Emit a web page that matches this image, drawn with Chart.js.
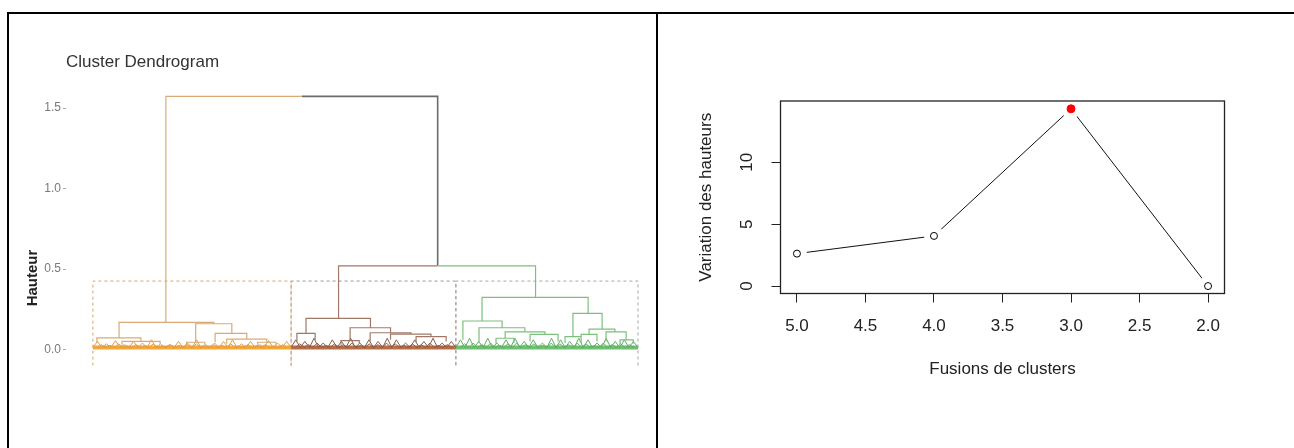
<!DOCTYPE html>
<html><head><meta charset="utf-8">
<script src="https://cdn.jsdelivr.net/npm/chart.js@4.4.1/dist/chart.umd.min.js"></script>
<style>
html,body{margin:0;padding:0;background:#fff;width:1294px;height:448px;overflow:hidden;}
#frame{position:absolute;left:7px;top:12px;width:1287px;height:436px;border-top:2px solid #000;border-left:2px solid #000;box-sizing:border-box;}
#divider{position:absolute;left:656px;top:12px;width:2px;height:436px;background:#000;}
#dend{position:absolute;left:14px;top:14px;}
#elbow{position:absolute;left:660px;top:14px;}
</style></head><body>
<div id="frame"></div><div id="divider"></div>
<canvas id="dend" width="640" height="434"></canvas>
<canvas id="elbow" width="634" height="434"></canvas>
<script>
const FONT = "'Liberation Sans', Arial, Helvetica, sans-serif";

// ---------- Dendrogram data (x in leaf-order units, y = height) ----------
const dendTicks = [0.0, 0.5, 1.0, 1.5];
const nodeLeft    = [24.8, 81.6, 9.4, 34.6, 41.0, 44.8, 2.1, 10.4, 31.6, 55.0, 70.9, 67.9, 85.4, 92.0, 98.7, 107.1, 82.4, 128.8, 122.5, 127.8, 136.4, 144.6, 133.4, 158.7, 156.1, 164.0, 161.4, 169.6, 174.2];
const nodeRight   = [114.2, 146.4, 40.6, 46.5, 51.4, 58.0, 16.6, 22.9, 37.6, 61.0, 92.1, 73.9, 98.7, 105.4, 112.0, 117.0, 88.4, 163.7, 135.4, 142.9, 149.5, 153.8, 139.3, 168.3, 161.4, 172.5, 166.6, 176.2, 178.5];
const nodeHeight  = [1.572, 0.52, 0.168, 0.16, 0.10, 0.065, 0.072, 0.05, 0.045, 0.045, 0.193, 0.10, 0.135, 0.104, 0.095, 0.08, 0.055, 0.324, 0.177, 0.135, 0.11, 0.094, 0.07, 0.224, 0.08, 0.127, 0.094, 0.11, 0.06];
const leftChildH  = [0.168, 0.193, 0.072, 0.045, 0.045, 0.035, 0.04, 0.03, 0.025, 0.03, 0.10, 0.05, 0.055, 0.05, 0.06, 0.045, 0.03, 0.177, 0.06, 0.04, 0.07, 0.05, 0.035, 0.08, 0.04, 0.094, 0.04, 0.05, 0.03];
const rightChildH = [0.52, 0.324, 0.16, 0.10, 0.065, 0.045, 0.05, 0.035, 0.03, 0.03, 0.135, 0.06, 0.104, 0.095, 0.08, 0.05, 0.035, 0.224, 0.135, 0.11, 0.094, 0.05, 0.04, 0.127, 0.045, 0.11, 0.05, 0.06, 0.035];
const leftCluster  = [1, 2, 1, 1, 1, 1, 1, 1, 1, 1, 2, 2, 2, 2, 2, 2, 2, 3, 3, 3, 3, 3, 3, 3, 3, 3, 3, 3, 3];
const rightCluster = [0, 3, 1, 1, 1, 1, 1, 1, 1, 1, 2, 2, 2, 2, 2, 2, 2, 3, 3, 3, 3, 3, 3, 3, 3, 3, 3, 3, 3];
const clusterStart = [0.8, 66.0, 120.2];
const clusterEnd   = [66.0, 120.2, 180.1];
const rectTopH = 0.425;
const rectBottomH = -0.1;
const leafBaseH = 0.012;
// outer layer of small leaf merges
const teethC1 = [0.05, 0.035, 0.055, 0.03, 0.05, 0.04, 0.06, 0.035, 0.03, 0.05, 0.04, 0.06, 0.03, 0.04, 0.05, 0.06, 0.035, 0.05, 0.03, 0.055, 0.04, 0.05];
const teethC2 = [0.06, 0.05, 0.07, 0.04, 0.06, 0.05, 0.07, 0.04, 0.06, 0.05, 0.07, 0.06, 0.04, 0.06, 0.05, 0.07, 0.04, 0.05];
const teethC3 = [0.06, 0.07, 0.05, 0.07, 0.04, 0.06, 0.07, 0.05, 0.06, 0.04, 0.07, 0.06, 0.05, 0.07, 0.06, 0.04, 0.07, 0.05, 0.06, 0.05];
// inner layer of small leaf merges
const innerC1 = [0.03, 0.025, 0.035, 0.02, 0.03, 0.025, 0.035, 0.02, 0.03, 0.025, 0.03, 0.035, 0.02, 0.03, 0.025, 0.035, 0.02, 0.03, 0.025, 0.03, 0.02, 0.03];
const innerC2 = [0.035, 0.03, 0.04, 0.025, 0.035, 0.03, 0.04, 0.025, 0.035, 0.03, 0.04, 0.035, 0.025, 0.035, 0.03, 0.04, 0.025, 0.03];
const innerC3 = [0.035, 0.04, 0.03, 0.04, 0.025, 0.035, 0.04, 0.03, 0.035, 0.025, 0.04, 0.035, 0.03, 0.04, 0.035, 0.025, 0.04, 0.03, 0.035, 0.03];

// ---------- Elbow data ----------
const fusionsX = [5.0, 4.0, 3.0, 2.0];
const heightDiffs = [2.62, 4.05, 14.32, 0.0];
const bestFusion = 3.0;
const fusionTicks = [5.0, 4.5, 4.0, 3.5, 3.0, 2.5, 2.0];
const diffTicks = [0, 5, 10];

// ---------- build dendrogram datasets ----------
const treeColors  = ['#6b6b6b', '#D9AA74', '#A07868', '#7DBF7D'];
const bandColors  = ['#F4A83A', '#B86E44', '#6CC070'];
const teethColors = ['#E39B45', '#8C5C46', '#5FAF63'];
const rectColors  = ['#DDA365', '#A89088', '#A2AAA2'];

function treeSegments(cl) {
  const pts = [];
  for (let i = 0; i < nodeLeft.length; i++) {
    const mid = (nodeLeft[i] + nodeRight[i]) / 2;
    if (leftCluster[i] === cl) {
      pts.push({x: nodeLeft[i], y: leftChildH[i]}, {x: nodeLeft[i], y: nodeHeight[i]}, {x: mid, y: nodeHeight[i]}, {x: mid, y: null});
    }
    if (rightCluster[i] === cl) {
      pts.push({x: mid, y: nodeHeight[i]}, {x: nodeRight[i], y: nodeHeight[i]}, {x: nodeRight[i], y: rightChildH[i]}, {x: nodeRight[i], y: null});
    }
  }
  return pts;
}
function zigzag(k, heights, shift) {
  const w = (clusterEnd[k] - clusterStart[k]) / (heights.length + shift);
  const a = clusterStart[k] + shift * w / 2;
  const pts = [{x: a, y: leafBaseH}];
  heights.forEach((h, i) => { pts.push({x: a + (i + 0.5) * w, y: h}, {x: a + (i + 1) * w, y: leafBaseH}); });
  return pts;
}
const dendSets = [];
[0, 1, 2].forEach(k => {
  dendSets.push({ data: [{x: clusterStart[k], y: rectBottomH}, {x: clusterStart[k], y: rectTopH}, {x: clusterEnd[k], y: rectTopH}, {x: clusterEnd[k], y: rectBottomH}],
    showLine: true, borderColor: rectColors[k], borderWidth: 1, borderDash: [3, 3], pointRadius: 0, order: 9, clip: false });
  dendSets.push({ data: [{x: clusterStart[k], y: leafBaseH}, {x: clusterEnd[k], y: leafBaseH}],
    showLine: true, borderColor: bandColors[k], borderWidth: 4, pointRadius: 0, order: 8 });
  dendSets.push({ data: zigzag(k, [teethC1, teethC2, teethC3][k], 0),
    showLine: true, borderColor: teethColors[k], borderWidth: 1, pointRadius: 0, order: 7 });
  dendSets.push({ data: zigzag(k, [innerC1, innerC2, innerC3][k], 1),
    showLine: true, borderColor: teethColors[k], borderWidth: 1, pointRadius: 0, order: 7 });
});
[1, 2, 3, 0].forEach(cl => {
  dendSets.push({ data: treeSegments(cl), showLine: true, spanGaps: false, borderColor: treeColors[cl],
    borderWidth: cl === 0 ? 1.6 : 1.2, pointRadius: 0, order: 1 });
});

const hauteurPlugin = { id: 'hauteur', afterDraw(chart) {
  const ctx = chart.ctx; ctx.save(); ctx.translate(19, 264); ctx.rotate(-Math.PI / 2);
  ctx.font = 'bold 15px ' + FONT; ctx.fillStyle = '#222'; ctx.textAlign = 'center'; ctx.textBaseline = 'middle';
  ctx.fillText('Hauteur', 0, 0); ctx.restore(); } };

new Chart(document.getElementById('dend'), {
  type: 'scatter',
  data: { datasets: dendSets },
  options: {
    responsive: false, animation: false, devicePixelRatio: 1,
    layout: { padding: { top: 0, left: 0, right: 9, bottom: 82.4 } },
    elements: { point: { radius: 0 }, line: { tension: 0 } },
    plugins: {
      legend: { display: false }, tooltip: { enabled: false },
      title: { display: true, text: 'Cluster Dendrogram', align: 'start', fullSize: false, color: '#333',
        font: { family: FONT, size: 17, weight: 'normal' }, padding: { top: 37.8, bottom: 19.7 } }
    },
    scales: {
      x: { type: 'linear', display: false, min: -8.05, max: 182.4 },
      y: { min: -0.1, max: 1.6,
        afterFit: s => { s.width = 52; },
        afterBuildTicks: s => { s.ticks = dendTicks.map(v => ({ value: v })); },
        grid: { display: true, drawOnChartArea: false, drawTicks: true, tickLength: 3, color: '#aaa' },
        border: { display: false },
        ticks: { padding: 2, color: '#7a7a7a', font: { family: FONT, size: 12 }, callback: v => Number(v).toFixed(1) } }
    }
  },
  plugins: [hauteurPlugin]
});

// ---------- elbow chart ----------
const pts = fusionsX.map((x, i) => ({ x: x, y: heightDiffs[i] }));
const boxPlugin = { id: 'rbox', afterDatasetsDraw(chart) {
  const { ctx, chartArea: a } = chart; ctx.save(); ctx.strokeStyle = '#222'; ctx.lineWidth = 1.3;
  ctx.strokeRect(a.left, a.top, a.right - a.left, a.bottom - a.top); ctx.restore(); } };

new Chart(document.getElementById('elbow'), {
  type: 'scatter',
  data: { datasets: [
    { data: pts, showLine: true, borderColor: '#111', borderWidth: 1, pointRadius: 0, order: 2 },
    { data: pts, showLine: false, pointRadius: 10, pointBackgroundColor: '#fff', pointBorderColor: '#fff', pointBorderWidth: 0, order: 1, clip: 0 },
    { data: pts, showLine: false,
      pointRadius: fusionsX.map(x => x === bestFusion ? 4 : 3.5),
      pointBackgroundColor: fusionsX.map(x => x === bestFusion ? '#ff0000' : '#ffffff'),
      pointBorderColor: fusionsX.map(x => x === bestFusion ? '#ff0000' : '#000000'),
      pointBorderWidth: 1, order: 0 }
  ] },
  options: {
    responsive: false, animation: false, devicePixelRatio: 1,
    layout: { padding: { top: 87, left: 0, right: 69.5, bottom: 64.8 } },
    plugins: { legend: { display: false }, tooltip: { enabled: false } },
    scales: {
      x: { type: 'linear', reverse: true, min: 1.88, max: 5.12,
        afterFit: s => { s.height = 89.7; },
        afterBuildTicks: s => { s.ticks = fusionTicks.map(v => ({ value: v })); },
        grid: { display: true, drawOnChartArea: false, drawTicks: true, tickLength: 9, color: '#222', lineWidth: 1 },
        border: { display: false },
        ticks: { padding: 14, color: '#222', font: { family: FONT, size: 17 }, maxRotation: 0, autoSkip: false, callback: v => Number(v).toFixed(1) },
        title: { display: true, text: 'Fusions de clusters', color: '#222', font: { family: FONT, size: 17 }, padding: { top: 0, bottom: 4 } } },
      y: { min: -0.6, max: 14.95,
        afterFit: s => { s.width = 120.5; },
        afterBuildTicks: s => { s.ticks = diffTicks.map(v => ({ value: v })); },
        grid: { display: true, drawOnChartArea: false, drawTicks: true, tickLength: 9, color: '#222' },
        border: { display: false },
        ticks: { padding: 14.5, color: '#222', font: { family: FONT, size: 17 }, minRotation: 90, maxRotation: 90, crossAlign: 'center', callback: v => String(v) },
        title: { display: true, text: 'Variation des hauteurs', color: '#222', font: { family: FONT, size: 17 }, padding: { top: 36.3, bottom: 0 } } }
    }
  },
  plugins: [boxPlugin]
});
</script></body></html>
